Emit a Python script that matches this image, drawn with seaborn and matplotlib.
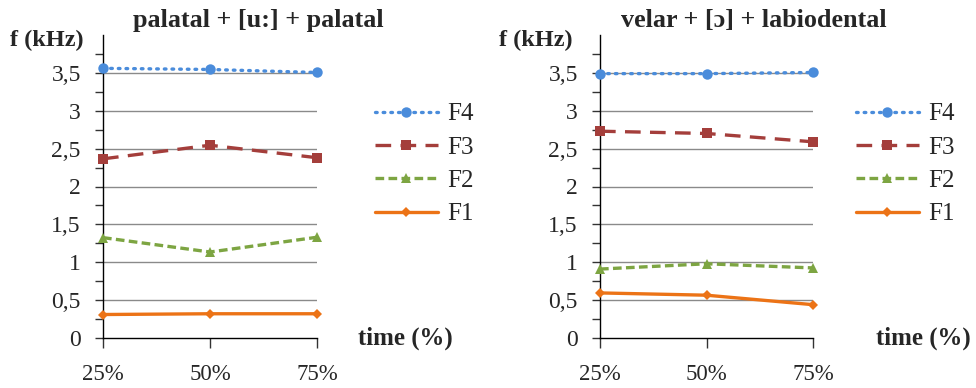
import numpy as np
import pandas as pd
import matplotlib
matplotlib.use("Agg")
import matplotlib.pyplot as plt
import seaborn as sns
from matplotlib.ticker import FixedLocator, FuncFormatter
from matplotlib.lines import Line2D

# ---- data ----
time_labels = ["25%", "50%", "75%"]
series_names = ["F4", "F3", "F2", "F1"]

left_title = "palatal + [u:] + palatal"
left_F4 = [3.56, 3.545, 3.505]
left_F3 = [2.365, 2.545, 2.38]
left_F2 = [1.325, 1.135, 1.33]
left_F1 = [0.31, 0.32, 0.32]

right_title = "velar + [ɔ] + labiodental"
right_F4 = [3.49, 3.49, 3.505]
right_F3 = [2.73, 2.70, 2.59]
right_F2 = [0.91, 0.98, 0.925]
right_F1 = [0.595, 0.565, 0.44]

y_label = "f (kHz)"
x_label = "time (%)"

# ---- styles ----
colors = {"F4": "#4A8CDB", "F3": "#A43E3B", "F2": "#7DA542", "F1": "#EC7316"}
styles = {"F4": (0, (0.5, 1.8)), "F3": (0, (4.7, 2.8)), "F2": (0, (2.6, 1.3)), "F1": "-"}
markers = {"F4": "o", "F3": "s", "F2": "^", "F1": "D"}
msizes = {"F4": 7.5, "F3": 6.5, "F2": 7, "F1": 5.5}
caps = {"F4": "round", "F3": "butt", "F2": "butt", "F1": "round"}
LW = 2.4

sns.set_theme(style="white")
plt.rcParams["font.family"] = ["Liberation Serif", "DejaVu Serif"]

W, H = 976, 388
fig = plt.figure(figsize=(W / 100, H / 100), dpi=100)


def px_rect(x0, x1, ytop, ybot):
    return [x0 / W, 1 - ybot / H, (x1 - x0) / W, (ybot - ytop) / H]


def panel(rect, title, data, title_cx, ylab_x, xlab_x, leg_x):
    ax = fig.add_axes(rect)
    x = np.arange(len(time_labels))
    for name in series_names:
        df = pd.DataFrame({"x": x, "y": data[name]})
        sns.lineplot(data=df, x="x", y="y", ax=ax, color=colors[name],
                     linestyle=styles[name], linewidth=LW, marker=markers[name],
                     markersize=msizes[name], markeredgewidth=0,
                     dash_capstyle=caps[name], clip_on=False, zorder=3)
    ax.set_xlim(0, 2)
    ax.set_ylim(0, 4)
    ax.set_xlabel("")
    ax.set_ylabel("")
    ax.yaxis.set_major_locator(FixedLocator(np.arange(0, 3.51, 0.5)))
    ax.yaxis.set_minor_locator(FixedLocator(np.arange(0.25, 3.8, 0.5)))
    ax.yaxis.set_major_formatter(FuncFormatter(lambda v, p: ("%g" % v).replace(".", ",")))
    ax.xaxis.set_major_locator(FixedLocator(x))
    ax.set_xticklabels(time_labels)
    for sp in ["top", "right"]:
        ax.spines[sp].set_visible(False)
    for sp in ["left", "bottom"]:
        ax.spines[sp].set_color("black")
        ax.spines[sp].set_linewidth(1.0)
    ax.grid(False)
    for v in np.arange(0.5, 3.51, 0.5):
        ax.axhline(v, color="#8a8a8a", linewidth=1.0, zorder=1)
    ax.tick_params(axis="y", which="both", direction="out", length=6, width=1,
                   color="#333333", left=True, pad=10, labelsize=17)
    ax.tick_params(axis="x", which="major", direction="out", length=7, width=1,
                   color="#333333", bottom=True, pad=12, labelsize=16.5)
    fig.text(title_cx / W, 1 - 21 / H, title, ha="center", va="center",
             fontsize=18.8, fontweight="bold")
    fig.text(ylab_x / W, 1 - 40 / H, y_label, ha="left", va="center",
             fontsize=17.5, fontweight="bold")
    fig.text(xlab_x / W, 1 - 338 / H, x_label, ha="left", va="center",
             fontsize=17.9, fontweight="bold")
    handles = [Line2D([], [], color=colors[n], linestyle=styles[n], linewidth=LW,
                      marker=markers[n], markersize=msizes[n], markeredgewidth=0,
                      dash_capstyle=caps[n]) for n in series_names]
    ax.legend(handles, series_names, loc="upper left",
              bbox_to_anchor=(leg_x / W, 1 - 103 / H), bbox_transform=fig.transFigure,
              frameon=False, fontsize=18, handlelength=2.5, handletextpad=0.4,
              labelspacing=0.43, borderpad=0, borderaxespad=0)
    return ax


left_data = {"F4": left_F4, "F3": left_F3, "F2": left_F2, "F1": left_F1}
right_data = {"F4": right_F4, "F3": right_F3, "F2": right_F2, "F1": right_F1}

panel(px_rect(103, 317, 35, 338), left_title, left_data, 258, 10, 358, 375)
panel(px_rect(600, 813, 35, 338), right_title, right_data, 754, 499, 876, 856)

fig.savefig("out.png", dpi=100)
